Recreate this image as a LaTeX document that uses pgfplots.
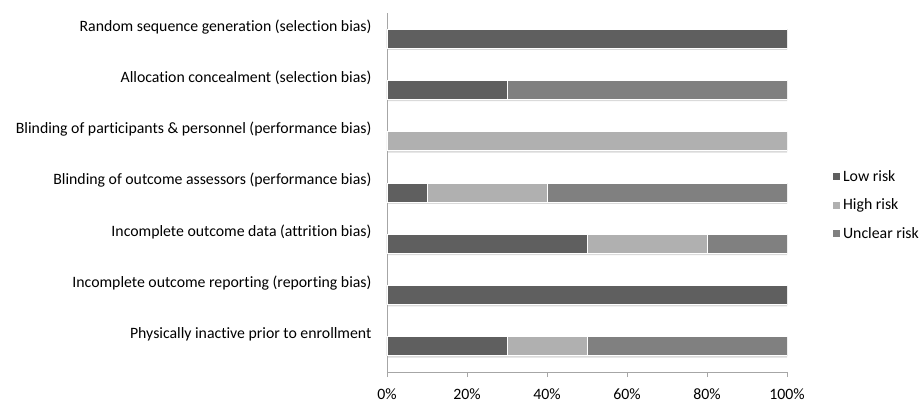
\documentclass[border=0pt]{standalone}
\usepackage{fontspec}
\setmainfont{Carlito}[Ligatures=NoCommon]
\usepackage{pgfplots}
\pgfplotsset{compat=1.18}
\definecolor{lowc}{HTML}{5F5F5F}
\definecolor{highc}{HTML}{B0B0B0}
\definecolor{uncc}{HTML}{808080}
\definecolor{axc}{HTML}{A6A6A6}
\definecolor{shc}{HTML}{DADADA}
\begin{document}
\begin{tikzpicture}[x=1pt,y=1pt]
\pgfplotsset{
  common/.style={
    at={(387pt,30pt)}, anchor=south west,
    scale only axis, width=400pt, height=359pt,
    xmin=0, xmax=100, ymin=-0.5, ymax=6.5, y dir=reverse,
    ytick={0,...,6},
  }
}
% shadow axis
\begin{axis}[common, hide axis, xbar, bar width=19pt]
\addplot[fill=shc, draw=none, bar shift=-1.8pt] coordinates {(100.3,0) (100.3,1) (100.3,2) (100.3,3) (100.3,4) (100.3,5) (100.3,6)};
\end{axis}
\begin{axis}[common,
  xbar stacked, bar width=19pt,
  axis x line*=bottom, axis y line*=left,
  axis line style={draw=axc, line width=0.8pt, -},
  xtick={0,20,...,100},
  xticklabel={\pgfmathprintnumber{\tick}\%},
  /pgf/number format/assume math mode=true,
  x tick style={draw=axc, line width=0.8pt},
  major tick length=5pt,
  tick align=outside,
  y tick style={draw=none},
  yticklabels={Random sequence generation (selection bias),
    Allocation concealment (selection bias),
    Blinding of participants \& personnel (performance bias),
    Blinding of outcome assessors (performance bias),
    Incomplete outcome data (attrition bias),
    Incomplete outcome reporting (reporting bias),
    Physically inactive prior to enrollment},
  ticklabel style={font=\fontsize{15.8}{18}\selectfont, text=black},
  yticklabel style={anchor=east, yshift=12pt, xshift=-7pt},
  xticklabel style={yshift=-8pt},
  legend style={at={(1.105,0.465)}, anchor=west, draw=none, fill=none,
    font=\fontsize{15.8}{18}\selectfont, text=black, row sep=12pt,
    cells={anchor=west}},
  legend image code/.code={\fill[#1] (0pt,-4pt) rectangle (8pt,4pt);},
]
\addplot[fill=lowc, draw=white, line width=0.9pt] coordinates {(100,0) (30,1) (0,2) (10,3) (50,4) (100,5) (30,6)};
\addlegendentry{Low risk}
\addplot[fill=highc, draw=white, line width=0.9pt] coordinates {(0,0) (0,1) (100,2) (30,3) (30,4) (0,5) (20,6)};
\addlegendentry{High risk}
\addplot[fill=uncc, draw=white, line width=0.9pt] coordinates {(0,0) (70,1) (0,2) (60,3) (20,4) (0,5) (50,6)};
\addlegendentry{Unclear risk}
\end{axis}
\pgfresetboundingbox
\path (0,0) rectangle (922,402);
\end{tikzpicture}
\end{document}
